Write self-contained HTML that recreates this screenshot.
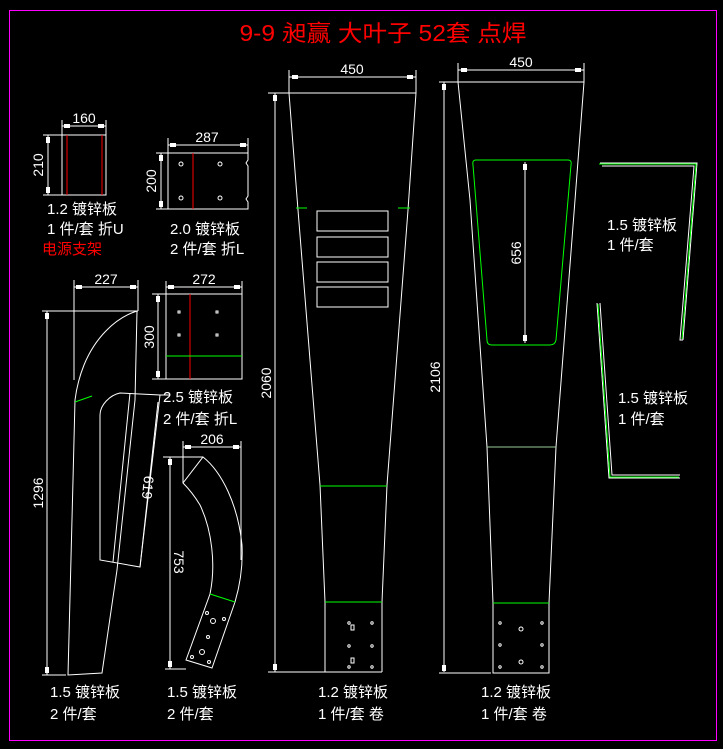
<!DOCTYPE html>
<html><head><meta charset="utf-8"><style>
html,body{margin:0;padding:0;background:#000;}
svg{display:block}
text{font-family:"Liberation Sans","Noto Sans CJK SC",sans-serif;fill:#fff;font-size:15px}
.d{font-size:14px}
</style></head><body>
<svg width="723" height="749" viewBox="0 0 723 749" xmlns="http://www.w3.org/2000/svg">
<rect x="0" y="0" width="723" height="749" fill="#000"/>
<rect x="9.5" y="10.5" width="707" height="730" fill="none" stroke="#f0f" stroke-width="1"/>
<text x="383" y="41" text-anchor="middle" textLength="287" lengthAdjust="spacingAndGlyphs" style="fill:#f00;font-size:23px">9-9 昶赢 大叶子  52套  点焊</text>

<g stroke="#fff" fill="none" stroke-width="1">
<!-- part1 -->
<rect x="62" y="135" width="44" height="60"/>
<line x1="62" y1="120" x2="62" y2="135"/><line x1="106" y1="120" x2="106" y2="135"/>
<line x1="62" y1="126" x2="106" y2="126"/>
<line x1="43" y1="135" x2="62" y2="135"/><line x1="43" y1="195" x2="62" y2="195"/>
<line x1="48" y1="135" x2="48" y2="195"/>
<!-- part2 -->
<path d="M168 153 H248 V160 L246 163 L248 166 V196 L246 199 L248 202 V209 H168 Z"/>
<line x1="168" y1="138" x2="168" y2="153"/><line x1="248" y1="138" x2="248" y2="153"/>
<line x1="168" y1="145" x2="248" y2="145"/>
<line x1="156" y1="153" x2="168" y2="153"/><line x1="156" y1="209" x2="168" y2="209"/>
<line x1="161" y1="153" x2="161" y2="209"/>
<circle cx="181" cy="164" r="2"/><circle cx="220" cy="164" r="2"/><circle cx="181" cy="198" r="2"/><circle cx="220" cy="198" r="2"/>
<!-- part3 -->
<rect x="166" y="294" width="76" height="85"/>
<line x1="166" y1="281" x2="166" y2="294"/><line x1="242" y1="281" x2="242" y2="294"/>
<line x1="166" y1="287" x2="242" y2="287"/>
<line x1="152" y1="294" x2="166" y2="294"/><line x1="152" y1="379" x2="166" y2="379"/>
<line x1="158" y1="294" x2="158" y2="379"/>
<rect x="178" y="311" width="2" height="2"/><rect x="216" y="311" width="2" height="2"/><rect x="178" y="334" width="2" height="2"/><rect x="216" y="334" width="2" height="2"/>
<!-- part4 -->
<line x1="74" y1="280" x2="74" y2="380"/><line x1="138" y1="280" x2="138" y2="311"/>
<line x1="74" y1="287" x2="138" y2="287"/>
<line x1="42" y1="311" x2="138" y2="311"/>
<line x1="47" y1="311" x2="47" y2="675"/>
<line x1="42" y1="675" x2="66" y2="675"/>
<path d="M137 311 C115 318 95 338 84 365 C78 380 76 392 75 400 L73 480 L68 675 L102 673 L117 570 L135 400 L137 311"/>
<path d="M120 393 L160 395 L140 567 L100 560 V415 C100 405 110 395 120 393 Z"/>
<line x1="130" y1="393" x2="113" y2="562"/>
<line x1="160" y1="395" x2="170" y2="395"/>
<line x1="158" y1="402" x2="140" y2="567"/>
<!-- part5 -->
<line x1="183" y1="441" x2="183" y2="483"/><line x1="241" y1="441" x2="241" y2="560"/>
<line x1="183" y1="447" x2="241" y2="447"/>
<line x1="163" y1="457" x2="203" y2="457"/>
<line x1="170" y1="457" x2="170" y2="669"/>
<line x1="165" y1="669" x2="186" y2="669"/>
<path d="M203 457 C222 472 238 505 242 545 C243 565 240 585 235 602 L212 668 L186 660 L210 594 C216 565 212 530 200 505 C194 495 188 488 183 483 Z"/>
<circle cx="207" cy="613" r="1.5"/><circle cx="213" cy="621" r="2.5"/><circle cx="224" cy="619" r="1.5"/><circle cx="208" cy="637" r="1.5"/><circle cx="202" cy="652" r="2.5"/><circle cx="192" cy="657" r="1.5"/><circle cx="209" cy="662" r="1.5"/>
<!-- part6 -->
<line x1="289" y1="70" x2="289" y2="93"/><line x1="416" y1="70" x2="416" y2="93"/>
<line x1="289" y1="77" x2="416" y2="77"/>
<line x1="268" y1="93" x2="416" y2="93"/>
<line x1="275" y1="93" x2="275" y2="672"/>
<line x1="268" y1="672" x2="382" y2="672"/>
<path d="M289 93 L298 210 L320 485 L325 602 V672 M416 93 L408 210 L387 485 L382 602 V672"/>
<rect x="317" y="211" width="71" height="20"/><rect x="317" y="237" width="71" height="20"/><rect x="317" y="262" width="71" height="20"/><rect x="317" y="287" width="71" height="20"/>
<circle cx="349" cy="623" r="1.2"/><circle cx="372" cy="623" r="1.2"/><circle cx="349" cy="646" r="1.2"/><circle cx="372" cy="646" r="1.2"/><circle cx="349" cy="667" r="1.2"/><circle cx="372" cy="667" r="1.2"/>
<rect x="351" y="625" width="3" height="5"/><rect x="351" y="658" width="3" height="5"/>
<!-- part7 -->
<line x1="458" y1="63" x2="458" y2="82"/><line x1="584" y1="63" x2="584" y2="82"/>
<line x1="458" y1="70" x2="584" y2="70"/>
<line x1="439" y1="82" x2="584" y2="82"/>
<line x1="444" y1="82" x2="444" y2="672"/>
<line x1="439" y1="673" x2="491" y2="673"/>
<path d="M458 82 L470 200 L487 447 L493 603 V673 H549 V603 L556 447 L575 200 L584 82"/>
<line x1="525" y1="162" x2="525" y2="343"/>
<circle cx="500" cy="623" r="1.2"/><circle cx="542" cy="623" r="1.2"/><circle cx="500" cy="645" r="1.2"/><circle cx="542" cy="645" r="1.2"/><circle cx="500" cy="667" r="1.2"/><circle cx="542" cy="667" r="1.2"/>
<circle cx="521" cy="629" r="2"/><circle cx="521" cy="662" r="2"/>
<!-- part8 -->
<path d="M600 163 H697 L683 340 M602 166 H694 L680 340 H683"/>
<path d="M597 303 L609 478 H680 M600 303 L612 475 H680"/>
</g>
<g fill="#fff">
<rect x="46" y="137" width="4" height="6"/><rect x="46" y="187" width="4" height="6"/>
<rect x="64" y="124" width="6" height="4"/><rect x="98" y="124" width="6" height="4"/>
<rect x="170" y="143" width="6" height="4"/><rect x="240" y="143" width="6" height="4"/>
<rect x="159" y="155" width="4" height="6"/><rect x="159" y="201" width="4" height="6"/>
<rect x="168" y="285" width="6" height="4"/><rect x="234" y="285" width="6" height="4"/>
<rect x="156" y="296" width="4" height="6"/><rect x="156" y="371" width="4" height="6"/>
<rect x="76" y="285" width="6" height="4"/><rect x="130" y="285" width="6" height="4"/>
<rect x="45" y="313" width="4" height="6"/><rect x="45" y="667" width="4" height="6"/>
<rect x="185" y="445" width="6" height="4"/><rect x="233" y="445" width="6" height="4"/>
<rect x="168" y="459" width="4" height="6"/><rect x="168" y="661" width="4" height="6"/>
<rect x="292" y="75" width="6" height="4"/><rect x="407" y="75" width="6" height="4"/>
<rect x="273" y="95" width="4" height="6"/><rect x="273" y="664" width="4" height="6"/>
<rect x="461" y="68" width="6" height="4"/><rect x="575" y="68" width="6" height="4"/>
<rect x="442" y="84" width="4" height="6"/><rect x="442" y="665" width="4" height="6"/>
<rect x="523" y="164" width="4" height="6"/><rect x="523" y="335" width="4" height="6"/>
</g>
<g stroke="#f00" stroke-width="1">
<line x1="67" y1="135" x2="67" y2="195"/><line x1="102" y1="135" x2="102" y2="195"/>
<line x1="193" y1="153" x2="193" y2="209"/>
<line x1="190" y1="294" x2="190" y2="379"/>
</g>
<g stroke="#0f0" stroke-width="1" fill="none">
<line x1="166" y1="356" x2="242" y2="356"/>
<line x1="75" y1="402" x2="92" y2="396"/>
<line x1="210" y1="594" x2="235" y2="602"/>
<line x1="296" y1="208" x2="307" y2="208"/><line x1="398" y1="208" x2="410" y2="208"/>
<line x1="320" y1="486" x2="387" y2="486"/>
<line x1="325" y1="602" x2="382" y2="602"/>
<line x1="487" y1="447" x2="556" y2="447" stroke="#9c9"/>
<line x1="493" y1="603" x2="549" y2="603"/>
<path d="M476 160 H568 Q572 160 571 165 L556 340 Q555 345 550 345 H492 Q487 345 487 340 L473 165 Q472 160 476 160 Z"/>
<path d="M599 164 H696 L682 339"/>
<path d="M598 304 L610 477 H679"/>
</g>
<g>
<text class="d" x="84" y="123" text-anchor="middle">160</text>
<text class="d" transform="translate(43 165) rotate(-90)" text-anchor="middle">210</text>
<text x="47" y="214">1.2 镀锌板</text>
<text x="47" y="234">1 件/套  折U</text>
<text x="42" y="254" style="fill:#f00">电源支架</text>
<text class="d" x="207" y="142" text-anchor="middle">287</text>
<text class="d" transform="translate(156 181) rotate(-90)" text-anchor="middle">200</text>
<text x="170" y="234">2.0 镀锌板</text>
<text x="170" y="254">2 件/套  折L</text>
<text class="d" x="204" y="284" text-anchor="middle">272</text>
<text class="d" transform="translate(154 337) rotate(-90)" text-anchor="middle">300</text>
<text x="163" y="402">2.5 镀锌板</text>
<text x="163" y="424">2 件/套  折L</text>
<text class="d" x="106" y="284" text-anchor="middle">227</text>
<text class="d" transform="translate(43 493) rotate(-90)" text-anchor="middle">1296</text>
<text class="d" transform="translate(143 487) rotate(96)" text-anchor="middle">619</text>
<text x="50" y="697">1.5 镀锌板</text>
<text x="50" y="719">2 件/套</text>
<text class="d" x="212" y="444" text-anchor="middle">206</text>
<text class="d" transform="translate(174 562) rotate(90)" text-anchor="middle">753</text>
<text x="167" y="697">1.5 镀锌板</text>
<text x="167" y="719">2 件/套</text>
<text class="d" x="352" y="74" text-anchor="middle">450</text>
<text class="d" transform="translate(271 383) rotate(-90)" text-anchor="middle">2060</text>
<text x="318" y="697">1.2 镀锌板</text>
<text x="318" y="719">1 件/套  卷</text>
<text class="d" x="521" y="67" text-anchor="middle">450</text>
<text class="d" transform="translate(440 377) rotate(-90)" text-anchor="middle">2106</text>
<text class="d" transform="translate(521 253) rotate(-90)" text-anchor="middle">656</text>
<text x="481" y="697">1.2 镀锌板</text>
<text x="481" y="719">1 件/套  卷</text>
<text x="607" y="230">1.5 镀锌板</text>
<text x="607" y="250">1 件/套</text>
<text x="618" y="403">1.5 镀锌板</text>
<text x="618" y="424">1 件/套</text>
</g>
</svg>
</body></html>
